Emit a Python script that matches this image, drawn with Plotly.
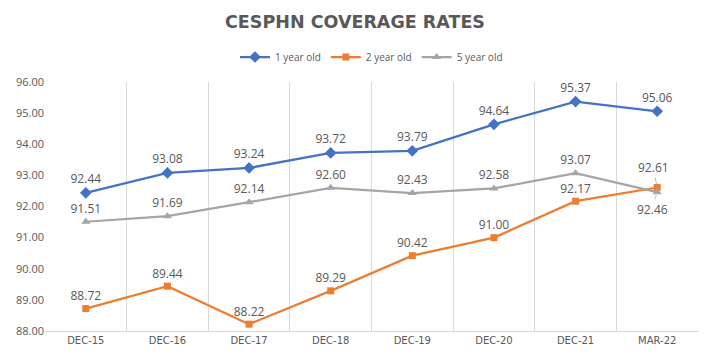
import plotly.graph_objects as go

categories = ["DEC-15", "DEC-16", "DEC-17", "DEC-18", "DEC-19", "DEC-20", "DEC-21", "MAR-22"]
one_year = [92.44, 93.08, 93.24, 93.72, 93.79, 94.64, 95.37, 95.06]
two_year = [88.72, 89.44, 88.22, 89.29, 90.42, 91.00, 92.17, 92.61]
five_year = [91.51, 91.69, 92.14, 92.60, 92.43, 92.58, 93.07, 92.46]
y_ticks = [88, 89, 90, 91, 92, 93, 94, 95, 96]

FONT = "Open Sans"
GRAY = "#595959"

fig = go.Figure()

def add(name, vals, color, symbol, size, leader_last=False):
    labels = [f"{v:.2f}" for v in vals]
    if leader_last:
        labels[-1] = ""
    fig.add_trace(go.Scatter(
        x=categories, y=vals, name=name, mode="lines+markers+text",
        line=dict(color=color, width=2.25),
        marker=dict(color=color, symbol=symbol, size=size),
        text=labels,
        textposition="top center",
        textfont=dict(family=FONT, size=12, color=GRAY),
        cliponaxis=False,
    ))

add("1 year old", one_year, "#4472C4", "diamond", 9)
add("2 year old", two_year, "#ED7D31", "square", 7, leader_last=True)
add("5 year old", five_year, "#A5A5A5", "triangle-up", 8, leader_last=True)

# labels with leader lines for the last category
for vals, ax, ay in [(two_year, -4, -20), (five_year, -5, 17)]:
    fig.add_annotation(
        x=categories[-1], y=vals[-1], text=f"{vals[-1]:.2f}",
        showarrow=True, arrowhead=0, arrowwidth=0.75, arrowcolor="#A6A6A6",
        ax=ax, ay=ay, standoff=3, startstandoff=0,
        font=dict(family=FONT, size=12, color=GRAY),
    )

fig.update_layout(
    width=710, height=356,
    margin=dict(l=45, r=12, t=82, b=25, autoexpand=False),
    paper_bgcolor="white", plot_bgcolor="white",
    font=dict(family=FONT, color=GRAY),
    title=dict(text="<b>CESPHN COVERAGE RATES</b>", x=0.5, xanchor="center",
               yref="container", y=1 - 22 / 356, yanchor="middle",
               font=dict(family="DejaVu Sans", size=17.5, color=GRAY)),
    legend=dict(orientation="h", x=0.5, xanchor="center",
                yref="container", y=1 - 57 / 356, yanchor="middle",
                font=dict(family=FONT, size=10, color=GRAY), itemwidth=30),
    showlegend=True,
)
fig.update_xaxes(
    type="category", tickson="boundaries", showgrid=True, gridcolor="#D9D9D9",
    gridwidth=1, showline=True, linecolor="#D9D9D9", ticks="", mirror=False,
    automargin=False,
    tickfont=dict(family="DejaVu Sans", size=10, color=GRAY), range=[-0.5, 7.5],
)
fig.update_yaxes(
    range=[88, 96], tickvals=y_ticks, tickformat=".2f", showgrid=False,
    zeroline=False, showline=False, ticks="", automargin=False,
    tickfont=dict(family=FONT, size=11, color=GRAY),
)

fig.write_html("out.html", config={"displayModeBar": False},
               post_script="document.body.style.margin='0';document.body.style.padding='0';")
